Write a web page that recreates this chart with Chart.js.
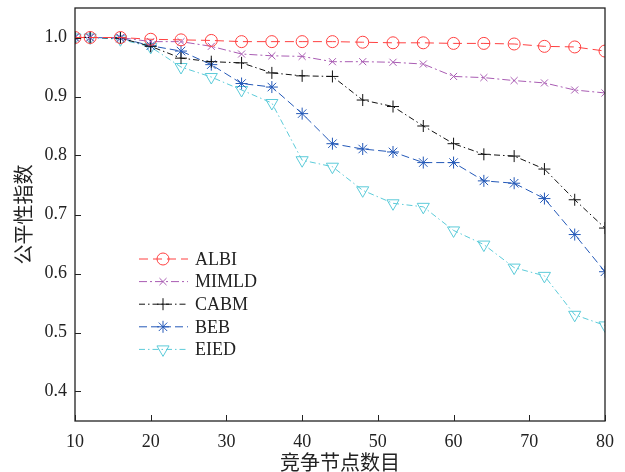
<!DOCTYPE html>
<html>
<head>
<meta charset="utf-8">
<script src="https://cdn.jsdelivr.net/npm/chart.js@4.4.1/dist/chart.umd.min.js"></script>
<style>
  html, body { margin: 0; padding: 0; background: #fff; }
  #wrap { width: 625px; height: 472px; }
</style>
</head>
<body>
<div id="wrap"><canvas id="fairChart" width="625" height="472"></canvas></div>
<script>
// number of competing nodes
const nodes = [10, 12, 16, 20, 24, 28, 32, 36, 40, 44, 48, 52, 56, 60, 64, 68, 72, 76, 80];

const albi  = [1.000, 1.000, 1.000, 0.997, 0.996, 0.995, 0.993, 0.993, 0.993, 0.993, 0.992, 0.991, 0.991, 0.990, 0.990, 0.989, 0.985, 0.984, 0.977];
const mimld = [1.000, 1.000, 1.000, 0.993, 0.993, 0.985, 0.972, 0.969, 0.968, 0.959, 0.959, 0.958, 0.955, 0.934, 0.932, 0.927, 0.923, 0.911, 0.906];
const cabm  = [1.000, 1.000, 0.999, 0.985, 0.965, 0.959, 0.957, 0.940, 0.935, 0.934, 0.894, 0.883, 0.850, 0.820, 0.802, 0.799, 0.777, 0.725, 0.677];
const beb   = [1.000, 1.000, 0.999, 0.986, 0.977, 0.954, 0.922, 0.916, 0.871, 0.820, 0.811, 0.806, 0.788, 0.788, 0.757, 0.753, 0.727, 0.666, 0.603];
const eied  = [1.000, 1.000, 0.997, 0.984, 0.950, 0.933, 0.911, 0.889, 0.792, 0.781, 0.741, 0.719, 0.713, 0.673, 0.649, 0.610, 0.596, 0.530, 0.512];

const seriesNames = ["ALBI", "MIMLD", "CABM", "BEB", "EIED"];
const xTicks = [10, 20, 30, 40, 50, 60, 70, 80];
const yTicks = [0.4, 0.5, 0.6, 0.7, 0.8, 0.9, 1.0];

const serif = '"Liberation Serif", "DejaVu Serif", serif';
const cjk = '"Noto Sans CJK SC", sans-serif';

function pts(ys) {
  return ys.map((y, i) => ({ x: nodes[i], y: y }));
}

function makeSet(label, data, color, dash, style, radius, rotation) {
  return {
    label: label,
    data: pts(data),
    borderColor: color,
    backgroundColor: "rgba(0,0,0,0)",
    borderWidth: 1,
    borderDash: dash,
    pointStyle: style,
    pointRadius: radius,
    pointRotation: rotation || 0,
    pointBorderColor: color,
    pointBackgroundColor: "rgba(0,0,0,0)",
    pointBorderWidth: 1,
    tension: 0,
  };
}

// no extra room for the edge tick labels, the frame sits where the axes say
function noEdgePadding(s) {
  s.paddingTop = 0;
  s.paddingBottom = 0;
  s.paddingLeft = 0;
  s.paddingRight = 0;
}

// frame, inside ticks and legend
const framePlugin = {
  id: "frame",
  afterDraw(chart) {
    const { ctx, chartArea: a, scales } = chart;
    ctx.save();
    ctx.strokeStyle = "#222";
    ctx.lineWidth = 1.3;
    ctx.setLineDash([]);
    ctx.strokeRect(a.left, a.top, a.right - a.left, a.bottom - a.top);
    ctx.lineWidth = 1;
    ctx.beginPath();
    xTicks.forEach((v) => {
      const px = Math.round(scales.x.getPixelForValue(v)) + 0.5;
      ctx.moveTo(px, a.bottom);
      ctx.lineTo(px, a.bottom - 6);
    });
    yTicks.forEach((v) => {
      const py = Math.round(scales.y.getPixelForValue(v)) + 0.5;
      ctx.moveTo(a.left, py);
      ctx.lineTo(a.left + 6, py);
    });
    ctx.stroke();

    // legend
    const lx0 = 139, lx1 = 188, mx = 163, tx = 195, ly0 = 259, dy = 22.6;
    chart.data.datasets.forEach((ds, i) => {
      const y = ly0 + i * dy;
      ctx.strokeStyle = ds.borderColor;
      ctx.lineWidth = 1;
      ctx.setLineDash(ds.borderDash);
      ctx.beginPath();
      ctx.moveTo(lx0, y);
      ctx.lineTo(lx1, y);
      ctx.stroke();
      ctx.setLineDash([]);
      ctx.fillStyle = "rgba(0,0,0,0)";
      Chart.helpers.drawPoint(ctx, {
        pointStyle: ds.pointStyle,
        radius: ds.pointRadius,
        rotation: ds.pointRotation,
        borderWidth: 1,
      }, mx, y);
      ctx.fillStyle = "#222";
      ctx.font = "18px " + serif;
      ctx.textBaseline = "middle";
      ctx.textAlign = "left";
      ctx.fillText(ds.label, tx, y + 1);
    });
    ctx.restore();
  },
};

new Chart(document.getElementById("fairChart"), {
  type: "line",
  data: {
    datasets: [
      makeSet(seriesNames[0], albi, "#ff4040", [9, 5], "circle", 6),
      makeSet(seriesNames[1], mimld, "#a95cb3", [8, 3, 2, 3], "crossRot", 5),
      makeSet(seriesNames[2], cabm, "#111111", [6, 3, 1.5, 3], "cross", 6),
      makeSet(seriesNames[3], beb, "#2459b8", [8, 4], "star", 6),
      makeSet(seriesNames[4], eied, "#5ccbd9", [6, 3, 1.5, 3], "triangle", 7, 180),
    ],
  },
  options: {
    responsive: false,
    animation: false,
    layout: { padding: { top: 8, right: 20, bottom: 0, left: 0 } },
    plugins: { legend: { display: false }, tooltip: { enabled: false } },
    scales: {
      x: {
        type: "linear",
        min: 10,
        max: 80,
        afterBuildTicks: (s) => { s.ticks = xTicks.map((v) => ({ value: v })); },
        afterFit: (s) => { s.height = 51; noEdgePadding(s); },
        grid: { display: false, drawTicks: false },
        border: { display: false },
        ticks: { color: "#222", padding: 10, maxRotation: 0, font: { family: serif, size: 18 } },
        title: {
          display: true,
          text: "竞争节点数目",
          color: "#222",
          padding: { top: 0, bottom: 0 },
          font: { family: cjk, size: 20, lineHeight: 1 },
        },
      },
      y: {
        type: "linear",
        min: 0.35,
        max: 1.05,
        afterBuildTicks: (s) => { s.ticks = yTicks.map((v) => ({ value: v })); },
        afterFit: (s) => { s.width = 75; noEdgePadding(s); },
        grid: { display: false, drawTicks: false },
        border: { display: false },
        ticks: { color: "#222", padding: 8, font: { family: serif, size: 18 }, callback: (v) => v.toFixed(1) },
        title: {
          display: true,
          text: "公平性指数",
          color: "#222",
          padding: { top: 13, bottom: 0 },
          font: { family: cjk, size: 20, lineHeight: 1 },
        },
      },
    },
  },
  plugins: [framePlugin],
});
</script>
</body>
</html>
